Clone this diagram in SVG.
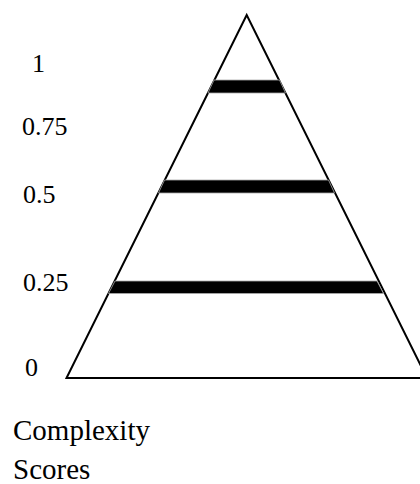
<svg xmlns="http://www.w3.org/2000/svg" width="420" height="484" viewBox="0 0 420 484">
<style>
.lbl{font-family:"Liberation Serif","Times New Roman",serif;font-size:26px;fill:#000}
.cap{font-family:"Liberation Serif","Times New Roman",serif;font-size:29px;fill:#000}
.bar{fill:#000;stroke:#aaa;stroke-width:0.8}
</style>
<rect width="420" height="484" fill="#fff"/>
<g id="pyramid">
<polygon points="246.7,15 66.5,378 426.9,378" fill="none" stroke="#000" stroke-width="2" stroke-linejoin="miter"/>
</g>
<g id="bars">
<polygon class="bar" points="214,80 279.5,80 285.5,93 208,93"/>
<polygon class="bar" points="164.5,180 328.5,180 334.5,193 158.5,193"/>
<polygon class="bar" points="115,281 377,281 383.5,293.5 108.5,293.5"/>
</g>
<g id="labels">
<text class="lbl" x="32" y="72">1</text>
<text class="lbl" x="22" y="135">0.75</text>
<text class="lbl" x="23" y="203">0.5</text>
<text class="lbl" x="23" y="291">0.25</text>
<text class="lbl" x="25" y="376">0</text>
</g>
<g id="caption">
<text class="cap" x="13" y="440">Complexity</text>
<text class="cap" x="13" y="479">Scores</text>
</g>
</svg>
